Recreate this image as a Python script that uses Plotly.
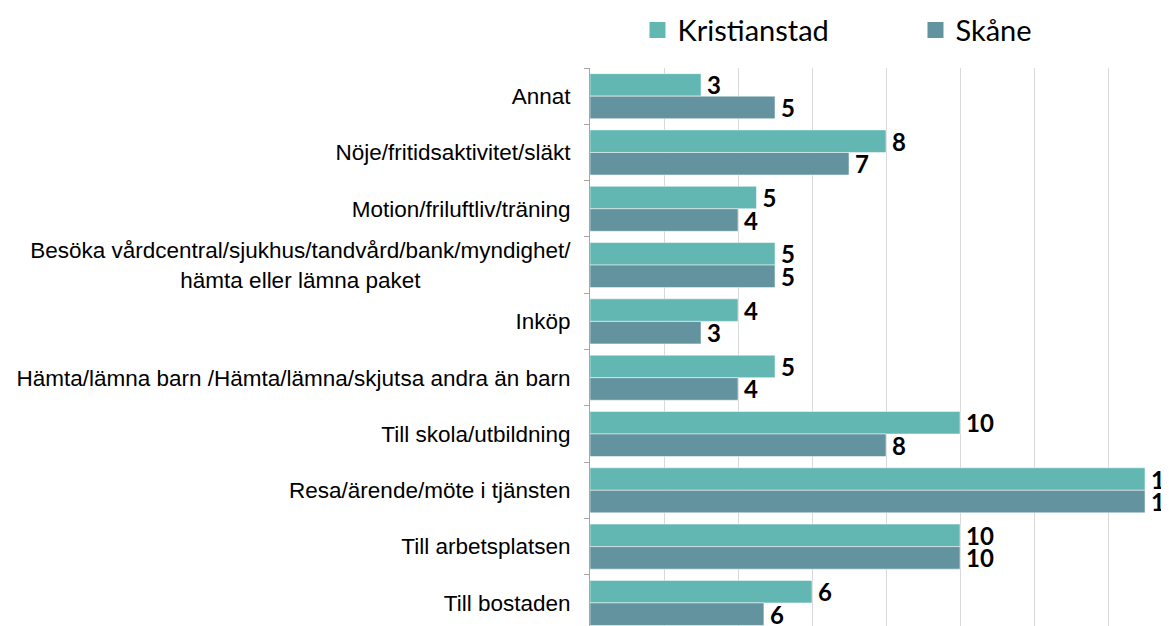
import plotly.graph_objects as go

# Categories in reading order (top to bottom)
categories = [
    "Annat",
    "Nöje/fritidsaktivitet/släkt",
    "Motion/friluftliv/träning",
    "Besöka vårdcentral/sjukhus/tandvård/bank/myndighet/<br>hämta eller lämna paket" + "\u00a0" * 24,
    "Inköp",
    "Hämta/lämna barn /Hämta/lämna/skjutsa andra än barn",
    "Till skola/utbildning",
    "Resa/ärende/möte i tjänsten",
    "Till arbetsplatsen",
    "Till bostaden",
]
kristianstad = [3, 8, 4.5, 5, 4, 5, 10, 15, 10, 6]
skane = [5, 7, 4, 5, 3, 4, 8, 15, 10, 4.7]
kristianstad_labels = ["3", "8", "5", "5", "4", "5", "10", "15", "10", "6"]
skane_labels = ["5", "7", "4", "5", "3", "4", "8", "15", "10", "6"]

colors = {"Kristianstad": "#62B7B3", "Skåne": "#62939E"}
label_font = dict(family="Lato", size=24, color="black", weight="bold")

fig = go.Figure()
for name, vals, labels in [("Kristianstad", kristianstad, kristianstad_labels),
                           ("Skåne", skane, skane_labels)]:
    fig.add_trace(go.Bar(y=categories, x=vals, name=name, orientation="h", showlegend=False,
                         marker=dict(color=colors[name], line=dict(color="rgba(255,255,255,0.5)", width=1)),
                         text=["\u2009" + t for t in labels], textposition="outside",
                         cliponaxis=False, constraintext="none", textfont=label_font))

# legend entries with bigger squares (trailing spaces give the gap between entries)
for name, pad in [("Kristianstad", 11), ("Skåne", 0)]:
    fig.add_trace(go.Scatter(x=[None], y=[None], mode="markers", name=name + "\u00a0" * pad,
                             marker=dict(symbol="square", size=18, color=colors[name])))

# page body has an 8px margin, so the figure is 8px smaller each way
fig.update_layout(
    width=1161, height=618,
    margin=dict(l=582, r=0, t=60, b=0),
    barmode="group", bargap=0.2, bargroupgap=0,
    plot_bgcolor="white", paper_bgcolor="white",
    font=dict(family="Liberation Sans", size=22.5, color="black"),
    legend=dict(orientation="h", x=0.082, y=0.964, xanchor="left", yanchor="middle",
                yref="container", font=dict(family="Lato", size=29, color="black"),
                itemwidth=30, bgcolor="rgba(0,0,0,0)"),
)
fig.update_xaxes(range=[0, 579 / 37], dtick=2, showgrid=True, gridcolor="#D9D9D9", gridwidth=1,
                 zeroline=False, showticklabels=False, showline=False)
fig.update_yaxes(range=[9.41, -0.5], showline=True, linecolor="#A6A6A6", linewidth=1,
                 ticks="outside", tickson="boundaries", ticklen=5, tickcolor="#A6A6A6",
                 ticklabelstandoff=14, showgrid=False)

fig.write_html("out.html")
